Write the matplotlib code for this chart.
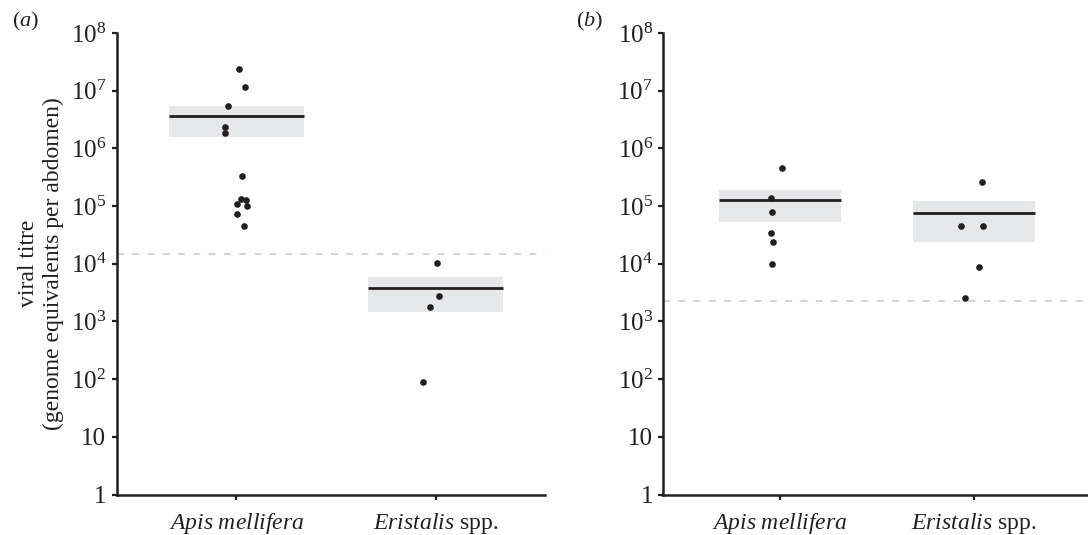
import matplotlib
matplotlib.use("Agg")
import matplotlib.pyplot as plt
import numpy as np

plt.rcParams['font.family'] = ['Liberation Serif', 'DejaVu Serif']
plt.rcParams['mathtext.fontset'] = 'custom'
plt.rcParams['mathtext.rm'] = 'Liberation Serif'
plt.rcParams['mathtext.it'] = 'Liberation Serif:italic'

categories = [r"$\mathit{Apis\ mellifera}$", r"$\mathit{Eristalis}$ spp."]
ytick_vals = [1, 10, 1e2, 1e3, 1e4, 1e5, 1e6, 1e7, 1e8]
ytick_labels = ["1", "10", r"$10^{2}$", r"$10^{3}$", r"$10^{4}$",
                r"$10^{5}$", r"$10^{6}$", r"$10^{7}$", r"$10^{8}$"]

# panel (a)
a_apis = [2.38e7, 1.14e7, 5.4e6, 2.35e6, 1.82e6, 3.3e5, 1.31e5, 1.27e5, 1.09e5, 1.0e5, 7.2e4, 4.6e4]
a_apis_jit = [0.013, 0.042, -0.044, -0.057, -0.055, 0.028, 0.022, 0.047, 0.003, 0.055, 0.003, 0.038]
a_eris = [1.02e4, 2.8e3, 1.8e3, 90]
a_eris_jit = [0.005, 0.018, -0.027, -0.064]
a_mean = [3.6e6, 3.75e3]
a_lo = [1.6e6, 1.48e3]
a_hi = [5.4e6, 5.8e3]
a_limit = 1.5e4

# panel (b)
b_apis = [4.6e5, 1.36e5, 8.0e4, 3.45e4, 2.4e4, 9.8e3]
b_apis_jit = [0.010, -0.046, -0.041, -0.045, -0.034, -0.041]
b_eris = [2.64e5, 4.6e4, 4.45e4, 8.9e3, 2.6e3]
b_eris_jit = [0.043, -0.065, 0.048, 0.024, -0.045]
b_mean = [1.26e5, 7.5e4]
b_lo = [5.3e4, 2.4e4]
b_hi = [1.9e5, 1.21e5]
b_limit = 2.23e3

ink = '#231f20'
band = '#e6e7e8'
FS = 17

fig = plt.figure(figsize=(10.88, 5.35), dpi=100)
ax_a = fig.add_axes([0.1073, 0.0757, 0.3937, 0.8626])
ax_b = fig.add_axes([0.6097, 0.0757, 0.3903, 0.8626])


def draw_panel(ax, groups, jits, mean, lo, hi, limit, hw, xmax):
    ax.set_yscale('log')
    ax.set_ylim(1, 1e8)
    ax.set_xlim(-0.6, xmax)
    ax.axhline(limit, color='#c8c8c8', lw=1.1, dashes=(4.5, 5.5), zorder=1)
    for i in range(2):
        ax.fill_between([i - hw, i + hw], lo[i], hi[i], color=band, lw=0, zorder=2)
        ax.plot([i - hw, i + hw], [mean[i], mean[i]], color=ink, lw=2.0,
                solid_capstyle='butt', zorder=3)
        xs = i + np.array(jits[i])
        ax.plot(xs, groups[i], 'o', color=ink, ms=4.8, mec='none', zorder=4)
    ax.set_yticks(ytick_vals)
    ax.set_yticklabels(ytick_labels)
    ax.yaxis.set_minor_locator(matplotlib.ticker.NullLocator())
    ax.set_xticks([0, 1])
    ax.set_xticklabels(categories)
    ax.tick_params(axis='y', direction='out', length=3.5, width=1.6, color=ink,
                   labelsize=18, pad=4, labelcolor=ink)
    ax.tick_params(axis='x', direction='out', length=3.8, width=1.6, color=ink,
                   labelsize=FS, pad=8, labelcolor=ink)
    for s in ['top', 'right']:
        ax.spines[s].set_visible(False)
    for s in ['left', 'bottom']:
        ax.spines[s].set_linewidth(1.8)
        ax.spines[s].set_color(ink)


draw_panel(ax_a, [a_apis, a_eris], [a_apis_jit, a_eris_jit], a_mean, a_lo, a_hi,
           a_limit, 0.34, 1.549)
draw_panel(ax_b, [b_apis, b_eris], [b_apis_jit, b_eris_jit], b_mean, b_lo, b_hi,
           b_limit, 0.314, 1.587)

fig.text(41 / 1088, 0.507, "viral titre\n(genome equivalents per abdomen)",
         rotation=90, ha='center', va='center', multialignment='center',
         fontsize=17, color=ink, linespacing=1.25)
fig.text(26 / 1088, 1 - 21 / 535, r"($\mathit{a}$)", fontsize=FS - 1, ha='center',
         va='center', color=ink)
fig.text(590 / 1088, 1 - 21 / 535, r"($\mathit{b}$)", fontsize=FS - 1, ha='center',
         va='center', color=ink)

fig.savefig("out.png", dpi=100)
